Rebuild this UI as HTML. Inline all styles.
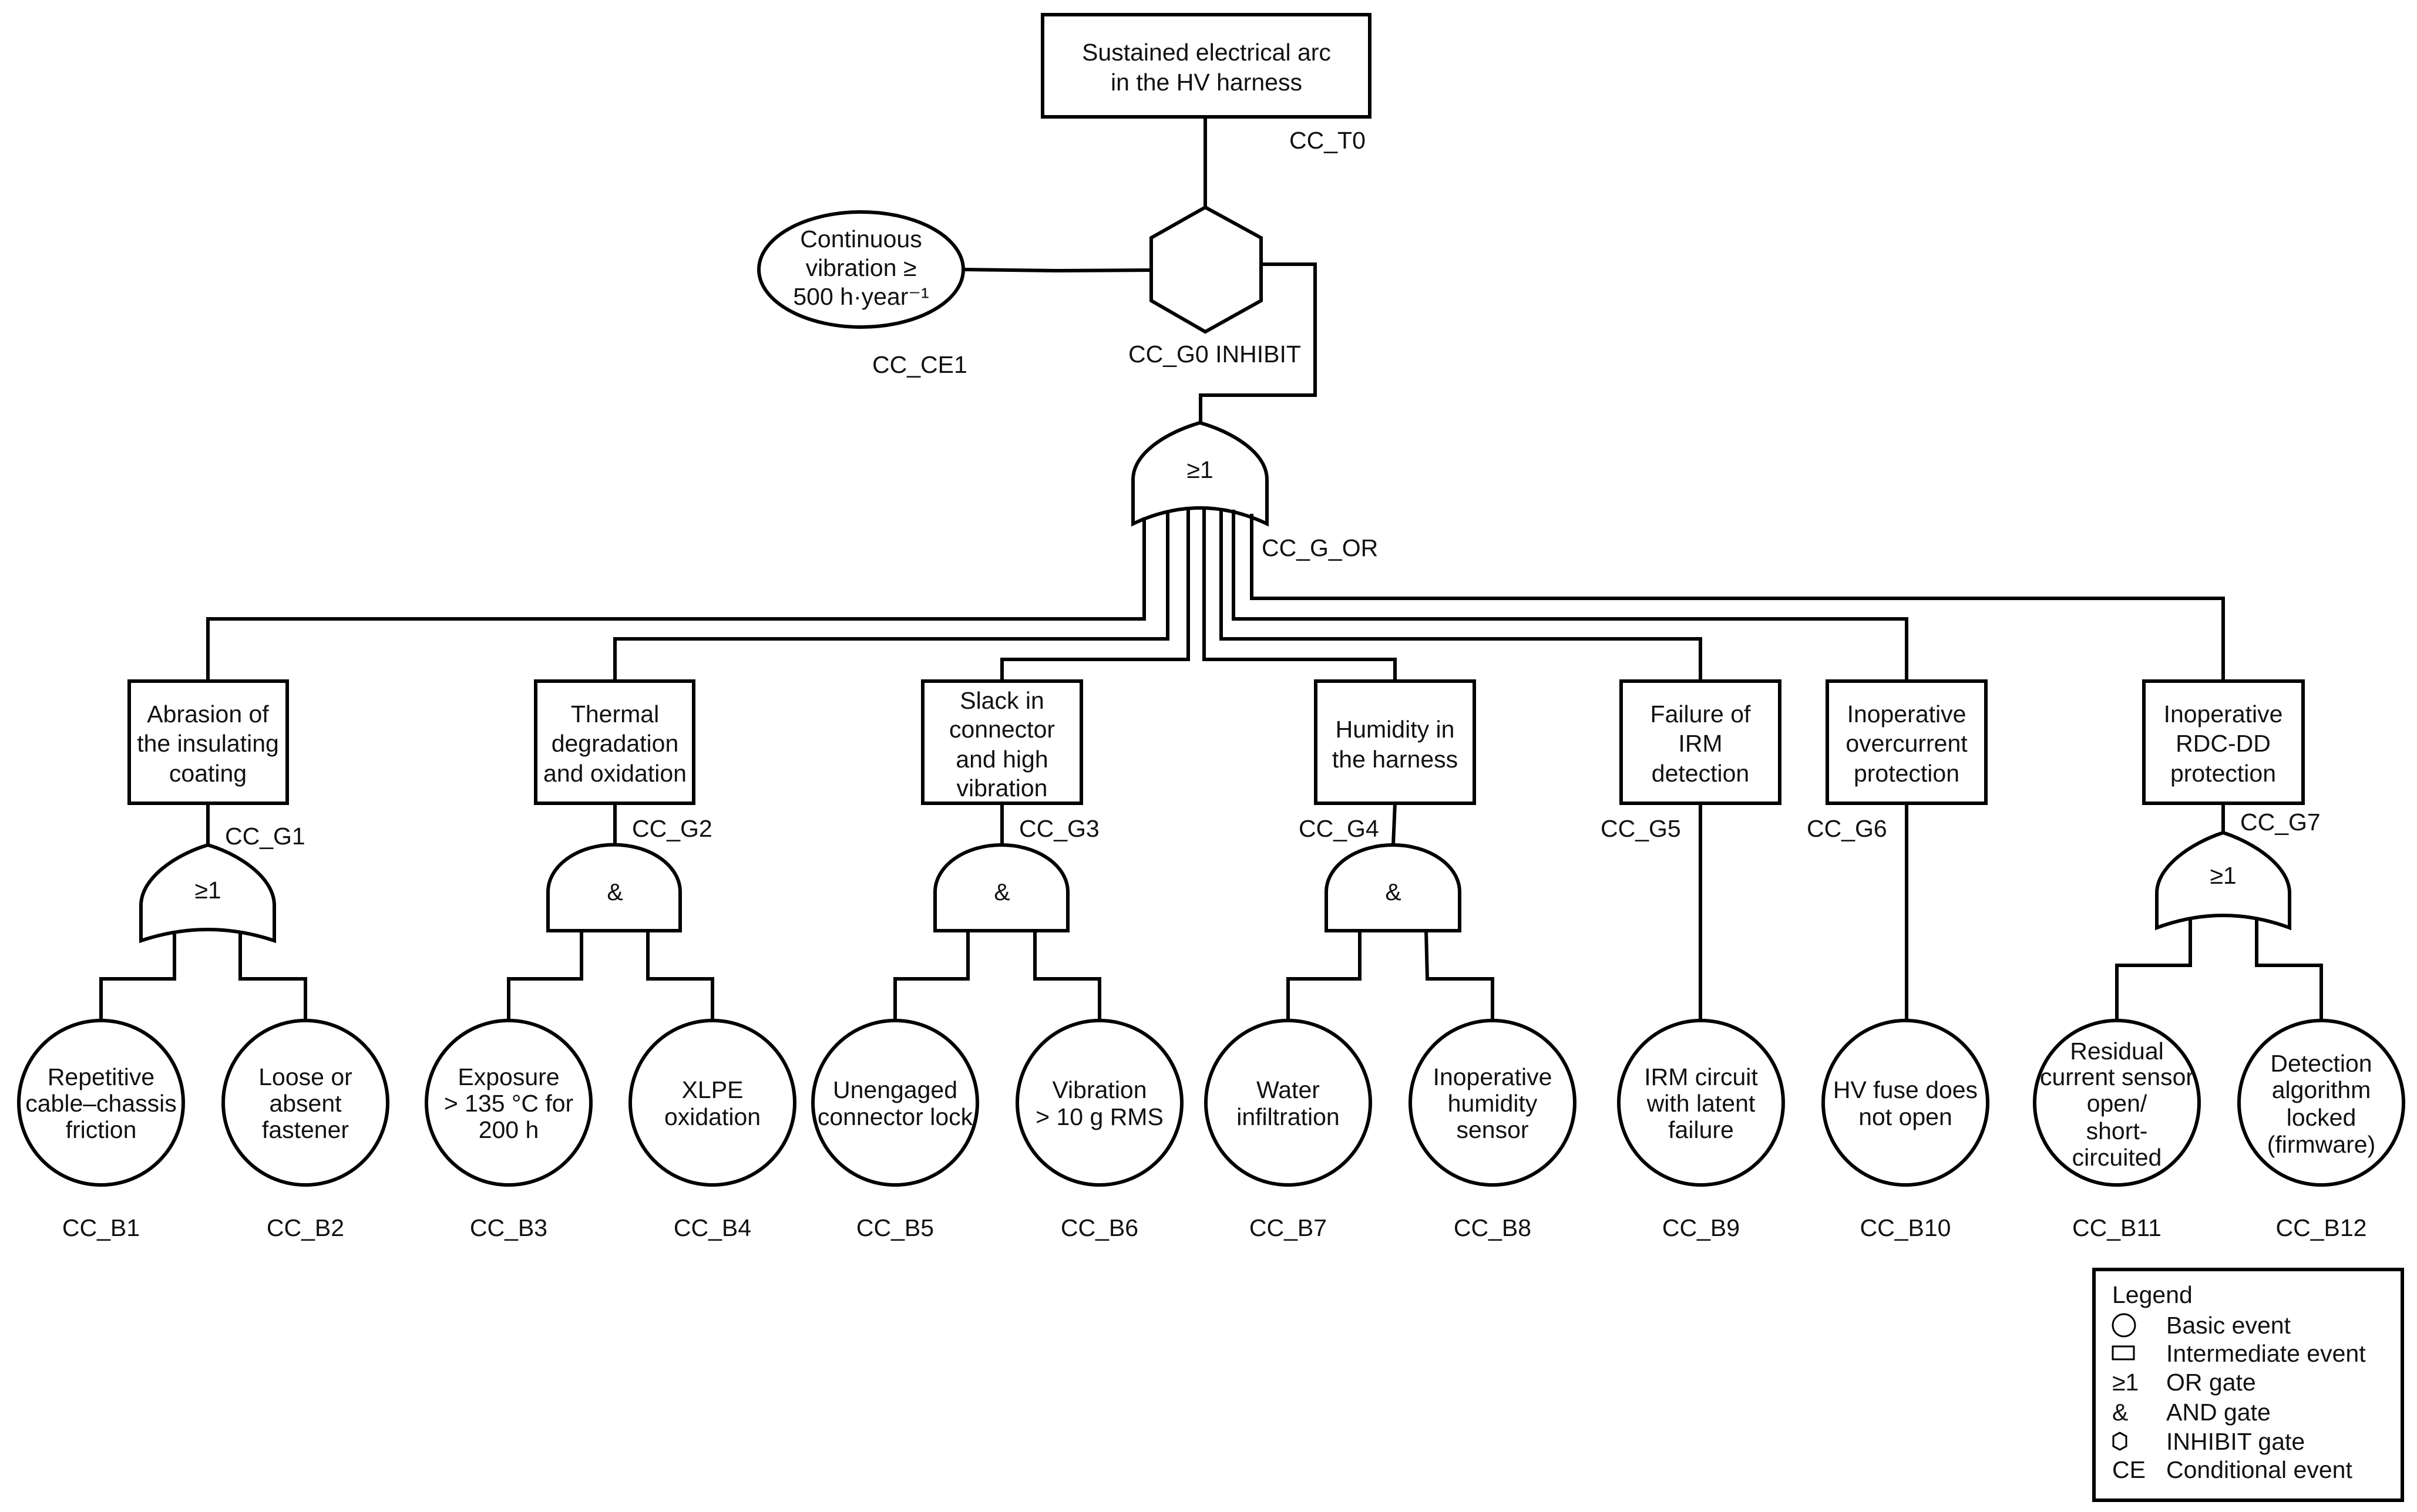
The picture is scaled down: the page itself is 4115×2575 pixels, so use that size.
<!DOCTYPE html>
<html><head><meta charset="utf-8"><style>
html,body{margin:0;padding:0;background:#fff}
svg{display:block}
text{font-family:"Liberation Sans",Arial,sans-serif;font-size:41px;fill:#111}
</style></head><body>
<svg width="4115" height="2575" viewBox="0 0 4115 2575" xmlns="http://www.w3.org/2000/svg">
<g fill="none" stroke="#000" stroke-width="6" stroke-linejoin="miter">
<!-- top box -->
<rect x="1775" y="25" width="557" height="174" fill="#fff"/>
<line x1="2052" y1="199" x2="2052" y2="353"/>
<polygon points="2052,353 2147,405 2147,512 2052,565 1960,512 1960,405" fill="#fff"/>
<ellipse cx="1466" cy="459" rx="174" ry="98" fill="#fff"/>
<polyline points="1640,459 1800,461 1960,460"/>
<polyline points="2147,450 2239,450 2239,673 2044,673 2044,720"/>
<!-- main OR -->
<path d="M1929,892 L1929,817 C1929,770 1990,735 2043,720 C2096,735 2157,770 2157,817 L2157,892 Q2043,838 1929,892 Z" fill="#fff"/>
<!-- fan out -->
<polyline points="1948,881 1948,1054 354,1054 354,1160"/>
<polyline points="1988,870 1988,1088 1047,1088 1047,1160"/>
<polyline points="2023,866 2023,1123 1706,1123 1706,1160"/>
<polyline points="2050,866 2050,1123 2375,1123 2375,1160"/>
<polyline points="2079,866 2079,1088 2895,1088 2895,1160"/>
<polyline points="2100,868 2100,1054 3246,1054 3246,1160"/>
<polyline points="2131,875 2131,1019 3785,1019 3785,1160"/>
<!-- intermediate boxes -->
<rect x="220" y="1160" width="269" height="208" fill="#fff"/>
<rect x="912" y="1160" width="269" height="208" fill="#fff"/>
<rect x="1571" y="1160" width="270" height="208" fill="#fff"/>
<rect x="2240" y="1160" width="270" height="208" fill="#fff"/>
<rect x="2760" y="1160" width="270" height="208" fill="#fff"/>
<rect x="3111" y="1160" width="270" height="208" fill="#fff"/>
<rect x="3650" y="1160" width="271" height="208" fill="#fff"/>
<!-- stems to gates -->
<line x1="354" y1="1368" x2="354" y2="1439"/>
<line x1="1047" y1="1368" x2="1047" y2="1439"/>
<line x1="1706" y1="1368" x2="1706" y2="1439"/>
<line x1="2375" y1="1368" x2="2372" y2="1439"/>
<line x1="2895" y1="1368" x2="2895" y2="1738"/>
<line x1="3246" y1="1368" x2="3246" y2="1738"/>
<line x1="3785" y1="1368" x2="3785" y2="1418"/>
<!-- G1 OR -->
<path d="M240,1602 L240,1542 C240,1495 300,1455 354,1439 C408,1455 467,1495 467,1542 L467,1602 Q354,1564 240,1602 Z" fill="#fff"/>
<!-- G7 OR -->
<path d="M3672,1580 L3672,1521 C3672,1476 3730,1436 3785,1418 C3840,1436 3898,1476 3898,1521 L3898,1580 Q3785,1538 3672,1580 Z" fill="#fff"/>
<!-- AND gates -->
<path d="M933,1585 L933,1519 A112,80 0 0 1 1158,1519 L1158,1585 Z" fill="#fff"/>
<path d="M1592,1585 L1592,1519 A113,80 0 0 1 1818,1519 L1818,1585 Z" fill="#fff"/>
<path d="M2258,1585 L2258,1519 A113.5,80 0 0 1 2485,1519 L2485,1585 Z" fill="#fff"/>
<!-- gate outputs -->
<polyline points="297,1590 297,1667 172,1667 172,1738"/>
<polyline points="409,1590 409,1667 520,1667 520,1738"/>
<polyline points="990,1585 990,1667 866,1667 866,1738"/>
<polyline points="1103,1585 1103,1667 1213,1667 1213,1738"/>
<polyline points="1648,1585 1648,1667 1524,1667 1524,1738"/>
<polyline points="1762,1585 1762,1667 1872,1667 1872,1738"/>
<polyline points="2315,1585 2315,1667 2193,1667 2193,1738"/>
<polyline points="2428,1585 2430,1667 2541,1667 2541,1738"/>
<polyline points="3729,1565 3729,1644 3604,1644 3604,1738"/>
<polyline points="3842,1565 3842,1644 3952,1644 3952,1738"/>
<!-- basic events -->
<circle cx="172" cy="1878" r="140" fill="#fff"/>
<circle cx="520" cy="1878" r="140" fill="#fff"/>
<circle cx="866" cy="1878" r="140" fill="#fff"/>
<circle cx="1213" cy="1878" r="140" fill="#fff"/>
<circle cx="1524" cy="1878" r="140" fill="#fff"/>
<circle cx="1872" cy="1878" r="140" fill="#fff"/>
<circle cx="2193" cy="1878" r="140" fill="#fff"/>
<circle cx="2541" cy="1878" r="140" fill="#fff"/>
<circle cx="2896" cy="1878" r="140" fill="#fff"/>
<circle cx="3244" cy="1878" r="140" fill="#fff"/>
<circle cx="3604" cy="1878" r="140" fill="#fff"/>
<circle cx="3952" cy="1878" r="140" fill="#fff"/>
<!-- legend -->
<rect x="3565" y="2162" width="525" height="393" fill="#fff"/>
<circle cx="3616" cy="2257" r="19" stroke-width="3"/>
<rect x="3597" y="2293" width="36" height="22" stroke-width="3"/>
<polygon points="3609,2440 3620,2446 3620,2463 3609,2469 3598,2463 3598,2446" stroke-width="3"/>
</g>
<g text-anchor="middle" dominant-baseline="central">
<text x="2054" y="89">Sustained electrical arc</text>
<text x="2054" y="140">in the HV harness</text>
<text x="1466" y="407">Continuous</text>
<text x="1466" y="456">vibration ≥</text>
<text x="1466" y="505">500 h·year⁻¹</text>
<text x="2043" y="800">≥1</text>
<text x="354" y="1516">≥1</text>
<text x="3785" y="1491">≥1</text>
<text x="1047" y="1519">&amp;</text>
<text x="1706" y="1519">&amp;</text>
<text x="2372" y="1519">&amp;</text>

<text x="354" y="1216">Abrasion of</text><text x="354" y="1266">the insulating</text><text x="354" y="1317">coating</text>
<text x="1047" y="1216">Thermal</text><text x="1047" y="1266">degradation</text><text x="1047" y="1317">and oxidation</text>
<text x="1706" y="1193">Slack in</text><text x="1706" y="1242">connector</text><text x="1706" y="1293">and high</text><text x="1706" y="1342">vibration</text>
<text x="2375" y="1242">Humidity in</text><text x="2375" y="1293">the harness</text>
<text x="2895" y="1216">Failure of</text><text x="2895" y="1266">IRM</text><text x="2895" y="1317">detection</text>
<text x="3246" y="1216">Inoperative</text><text x="3246" y="1266">overcurrent</text><text x="3246" y="1317">protection</text>
<text x="3785" y="1216">Inoperative</text><text x="3785" y="1266">RDC-DD</text><text x="3785" y="1317">protection</text>

<g style="font-size:38px">
<text x="172" y="1834">Repetitive</text><text x="172" y="1879">cable–chassis</text><text x="172" y="1924">friction</text>
<text x="520" y="1834">Loose or</text><text x="520" y="1879">absent</text><text x="520" y="1924">fastener</text>
<text x="866" y="1834">Exposure</text><text x="866" y="1879">&gt; 135 °C for</text><text x="866" y="1924">200 h</text>
<text x="1213" y="1856">XLPE</text><text x="1213" y="1902">oxidation</text>
<text x="1524" y="1856">Unengaged</text><text x="1524" y="1902">connector lock</text>
<text x="1872" y="1856">Vibration</text><text x="1872" y="1902">&gt; 10 g RMS</text>
<text x="2193" y="1856">Water</text><text x="2193" y="1902">infiltration</text>
<text x="2541" y="1834">Inoperative</text><text x="2541" y="1879">humidity</text><text x="2541" y="1924">sensor</text>
<text x="2896" y="1834">IRM circuit</text><text x="2896" y="1879">with latent</text><text x="2896" y="1924">failure</text>
<text x="3244" y="1856">HV fuse does</text><text x="3244" y="1902">not open</text>
<text x="3604" y="1790">Residual</text><text x="3604" y="1834">current sensor</text><text x="3604" y="1879">open/</text><text x="3604" y="1926">short-</text><text x="3604" y="1971">circuited</text>
<text x="3952" y="1811">Detection</text><text x="3952" y="1856">algorithm</text><text x="3952" y="1903">locked</text><text x="3952" y="1949">(firmware)</text>
</g>

<text x="172" y="2091">CC_B1</text><text x="520" y="2091">CC_B2</text><text x="866" y="2091">CC_B3</text><text x="1213" y="2091">CC_B4</text>
<text x="1524" y="2091">CC_B5</text><text x="1872" y="2091">CC_B6</text><text x="2193" y="2091">CC_B7</text><text x="2541" y="2091">CC_B8</text>
<text x="2896" y="2091">CC_B9</text><text x="3244" y="2091">CC_B10</text><text x="3604" y="2091">CC_B11</text><text x="3952" y="2091">CC_B12</text>
</g>
<g dominant-baseline="central">
<text x="2195" y="239">CC_T0</text>
<text x="1485" y="621">CC_CE1</text>
<text x="1921" y="603">CC_G0 INHIBIT</text>
<text x="2148" y="933">CC_G_OR</text>
<text x="383" y="1424">CC_G1</text>
<text x="1076" y="1411">CC_G2</text>
<text x="1735" y="1411">CC_G3</text>
<text x="2211" y="1411">CC_G4</text>
<text x="2725" y="1411">CC_G5</text>
<text x="3076" y="1411">CC_G6</text>
<text x="3814" y="1400">CC_G7</text>
<g style="font-size:39px">
<text x="3596" y="2205">Legend</text>
<text x="3688" y="2257">Basic event</text>
<text x="3688" y="2305">Intermediate event</text>
<text x="3596" y="2354">≥1</text><text x="3688" y="2354">OR gate</text>
<text x="3596" y="2405">&amp;</text><text x="3688" y="2405">AND gate</text>
<text x="3688" y="2455">INHIBIT gate</text>
<text x="3596" y="2503">CE</text><text x="3688" y="2503">Conditional event</text>
</g>
</g>
</svg>
</body></html>
